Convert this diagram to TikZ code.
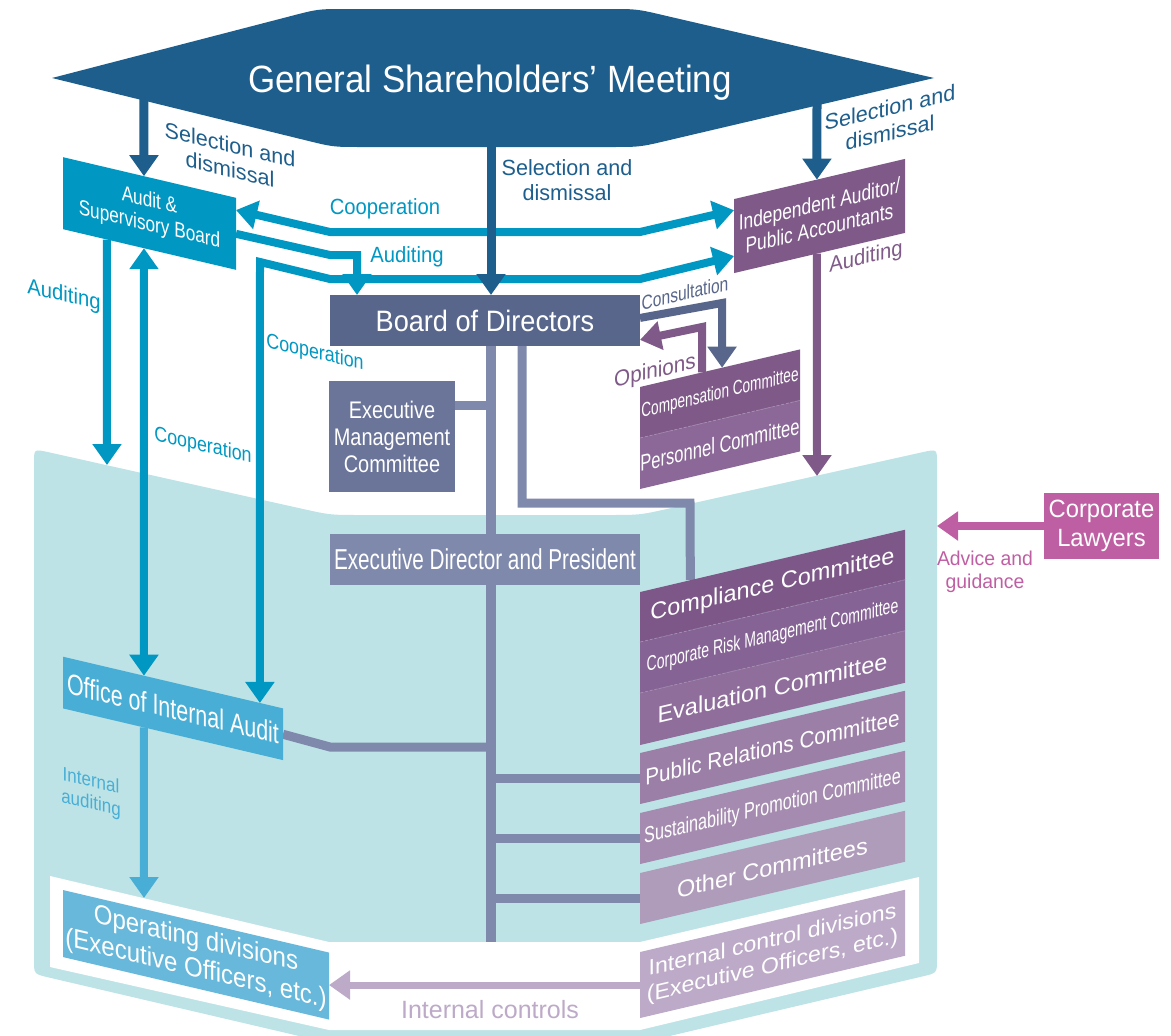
\documentclass[tikz,border=0pt]{standalone}
\usepackage{fontspec}
\setmainfont{Liberation Sans}
\usetikzlibrary{arrows.meta, calc}
\newcommand{\fs}[3]{\fontspec{Liberation Sans}[FakeStretch=#1]\fontsize{#2}{#3}\selectfont}
\definecolor{gsmblue}{HTML}{1D5E8D}
\definecolor{bodslate}{HTML}{57668A}
\definecolor{emcslate}{HTML}{6B7599}
\definecolor{presslate}{HTML}{7F89AB}
\definecolor{trunkgray}{HTML}{7F89AB}
\definecolor{audcyan}{HTML}{0097C2}
\definecolor{oiacyan}{HTML}{48AED5}
\definecolor{opdcyan}{HTML}{67B8DB}
\definecolor{panelcyan}{HTML}{BDE3E6}
\definecolor{indpurple}{HTML}{7F5A89}
\definecolor{compA}{HTML}{7F5A89}
\definecolor{compB}{HTML}{8B6897}
\definecolor{cplA}{HTML}{7C5788}
\definecolor{crmB}{HTML}{866395}
\definecolor{evaC}{HTML}{8F6E9B}
\definecolor{prcD}{HTML}{9B7FA7}
\definecolor{spcE}{HTML}{A48BAF}
\definecolor{othF}{HTML}{AF9BBA}
\definecolor{icdG}{HTML}{BDAAC8}
\definecolor{lawpink}{HTML}{BF5FA3}
\definecolor{divdash}{HTML}{A58DB1}
\pgfdeclarelayer{panel}
\pgfdeclarelayer{wires}
\pgfsetlayers{panel,wires,main}
\tikzset{
  plate/.style   = {inner sep=0pt, outer sep=0pt, align=center, text=white},
  lslant/.style  = {yslant=-0.235},
  rslant/.style  = {yslant=0.235},
  lbl/.style     = {inner sep=0pt, align=center},
  tipend/.style  = {-{Triangle[length=21pt,width=28pt]}},
  tipboth/.style = {{Triangle[length=21pt,width=28pt]}-{Triangle[length=21pt,width=28pt]}},
  selflow/.style = {tipend, line width=9pt, draw=gsmblue},
  cyflow/.style  = {tipend, line width=8pt, draw=audcyan},
  coop/.style    = {tipboth, line width=8pt, draw=audcyan},
  iaflow/.style  = {tipend, line width=8pt, draw=oiacyan},
  puflow/.style  = {tipend, line width=8pt, draw=indpurple},
  conflow/.style = {tipend, line width=8pt, draw=bodslate},
  lawflow/.style = {tipend, line width=8pt, draw=lawpink},
  icflow/.style  = {tipend, line width=7pt, draw=icdG},
  trunk/.style   = {line width=10pt, draw=trunkgray},
  branch/.style  = {line width=9pt, draw=trunkgray},
  divline/.style = {draw=divdash, line width=0.7pt, dash pattern=on 3pt off 2pt}
}
\begin{document}
\begin{tikzpicture}[x=1pt, y=-1pt]
  \useasboundingbox (0,0) rectangle (1171,1036);

  % background: company panel, floor and the meeting
  \begin{pgfonlayer}{panel}
    \fill[panelcyan] (34,463) .. controls (34,449) .. (48,452.1) -- (300,508.3)
      .. controls (330,515) .. (360,515) -- (610,515) .. controls (640,515) .. (670,508.3)
      -- (923,452.1) .. controls (937,449) .. (937,463) -- (937,959)
      .. controls (937,973) .. (923,976.3) -- (640,1043) -- (329,1043) -- (48,977.3)
      .. controls (34,974) .. (34,960) -- cycle;
    \fill[white] (50,876) -- (329,942) -- (640,942) -- (919,877) -- (919,963)
      -- (640,1030) -- (329,1030) -- (50,967) -- cycle;
    \fill[gsmblue] (52,78) -- (290,16.3) .. controls (318,9) .. (346,9) -- (609,9)
      .. controls (637,9) .. (665,15.6) -- (934,78) -- (668,140.4)
      .. controls (640,147) .. (612,147) -- (361,147) .. controls (333,147) .. (305,140.1)
      -- cycle;
  \end{pgfonlayer}
  \node[lbl, anchor=base, text=white, font=\fs{0.92}{38}{40}] (gsm) at (490,92)
        {General Shareholders’ Meeting};

  % boxes
  \node[plate, fill=bodslate, minimum width=310pt, minimum height=51pt,
        font=\fs{0.92}{29.5}{30}] (bod) at (485,320.5) {Board of Directors};
  \node[plate, fill=emcslate, minimum width=126pt, minimum height=111pt,
        font=\fs{0.83}{24}{27}] (emc) at (392,436.5) {Executive\\Management\\Committee};
  \node[plate, fill=presslate, minimum width=310pt, minimum height=51pt,
        font=\fs{0.72}{28.8}{30}] (pres) at (485,559.5) {Executive Director and President};
  \node[plate, fill=lawpink, minimum width=115pt, minimum height=66pt,
        font=\fs{0.95}{25}{28.5}] (law) at (1101.5,526) {Corporate\\Lawyers};

  \node[plate, lslant, fill=audcyan, minimum width=173pt, minimum height=72pt,
        font=\fs{0.8}{21.5}{24}] (aud) at (149.5,213.5) {Audit \&\\Supervisory Board};
  \node[plate, lslant, fill=oiacyan, minimum width=220pt, minimum height=51.7pt,
        font=\fs{0.74}{29}{28}] (oia) at (173,708.4) {Office of Internal Audit};
  \node[plate, lslant, fill=opdcyan, minimum width=266pt, minimum height=67pt,
        font=\fs{0.89}{27}{30}] (opd) at (196,954.8)
        {Operating divisions\\(Executive Officers, etc.)};

  \node[plate, rslant, fill=indpurple, minimum width=171pt, minimum height=74pt,
        font=\fs{0.79}{22}{24.5}] (ind) at (819.5,216) {Independent Auditor/\\Public Accountants};
  \node[plate, rslant, fill=compA, minimum width=160pt, minimum height=51pt,
        font=\fs{0.68}{20}{20}] (comp) at (720,393.7) {Compensation Committee};
  \node[plate, rslant, fill=compB, minimum width=160pt, minimum height=51pt,
        font=\fs{0.72}{23}{23}] (pers) at (720,444.7) {Personnel Committee};

  \node[plate, rslant, fill=cplA, minimum width=265pt, minimum height=50pt,
        font=\fs{1}{23.5}{24}] (cpl) at (772.5,585.9) {Compliance Committee};
  \node[plate, rslant, fill=crmB, minimum width=265pt, minimum height=51pt,
        font=\fs{0.67}{21}{22}] (crm) at (772.5,636.4) {Corporate Risk Management Committee};
  \node[plate, rslant, fill=evaC, minimum width=265pt, minimum height=52pt,
        font=\fs{1}{23.5}{24}] (eva) at (772.5,687.9) {Evaluation Committee};
  \node[plate, rslant, fill=prcD, minimum width=265pt, minimum height=51pt,
        font=\fs{0.9}{23}{24}] (prc) at (772.5,747.4) {Public Relations Committee};
  \node[plate, rslant, fill=spcE, minimum width=265pt, minimum height=51pt,
        font=\fs{0.72}{22.5}{24}] (spc) at (772.5,807.4) {Sustainability Promotion Committee};
  \node[plate, rslant, fill=othF, minimum width=265pt, minimum height=51pt,
        font=\fs{1}{23.5}{24}] (oth) at (772.5,867.4) {Other Committees};
  \node[plate, rslant, fill=icdG, minimum width=265pt, minimum height=66pt,
        font=\fs{1.05}{22}{25.5}] (icd) at (772.5,953.9)
        {Internal control divisions\\(Executive Officers, etc.)};

  \draw[divline] (comp.south west) -- (comp.south east);
  \draw[divline] (cpl.south west) -- (cpl.south east);
  \draw[divline] (crm.south west) -- (crm.south east);

  % reporting lines behind the boxes
  \coordinate (trunkend) at (491,942);
  \coordinate (cplx) at (522,503);
  \begin{pgfonlayer}{wires}
    \draw[trunk] (bod.south -| trunkend) -- (trunkend);
    \draw[branch] ($(emc.north east)!0.225!(emc.south east)$) coordinate (emcb)
          -- (emcb -| trunkend);
    \draw[branch] (oia.east) -- (330,747) coordinate (oiab) -- (oiab -| trunkend);
    \draw[branch] (prc.west) -- (prc.west -| trunkend);
    \draw[branch] (spc.west) -- (spc.west -| trunkend);
    \draw[branch] (oth.west) -- (oth.west -| trunkend);
    \draw[branch] (bod.south -| cplx) -- (cplx) -- (690,503)
          -- ($(cpl.north west)!0.19!(cpl.north east)$);
  \end{pgfonlayer}

  % cooperation and auditing
  \coordinate (pnlA) at (107,465);
  \coordinate (pnlB) at (817,476);
  \coordinate (pnlC) at (937,526);
  \coordinate (opdA) at (144,898);
  \coordinate (audx) at (357,255);
  \draw[coop] ($(aud.north east)!0.17!(aud.south east)$) -- (330,232) -- (640,232)
        -- ($(ind.north west)!0.15!(ind.south west)$);
  \draw[coop] ($(oia.north west)!0.895!(oia.north east)$) -- (260,262) -- (330,279)
        -- (640,279) -- ($(ind.north west)!0.77!(ind.south west)$);
  \draw[cyflow] (aud.east) -- (330,255) -- (audx) -- (bod.north -| audx);
  \draw[cyflow] ($(aud.south west)!0.254!(aud.south east)$) -- (pnlA);
  \draw[coop] ($(aud.south west)!0.468!(aud.south east)$)
        -- ($(oia.north west)!0.368!(oia.north east)$);
  \draw[iaflow] ($(oia.south west)!0.368!(oia.south east)$) -- (opdA);

  % selection and dismissal
  \coordinate (gsmL) at (144,96);
  \coordinate (gsmM) at (491,140);
  \coordinate (gsmR) at (817,100);
  \draw[selflow] (gsmL) -- ($(aud.north west)!0.468!(aud.north east)$);
  \draw[selflow] (gsmM) -- (gsmM |- bod.north);
  \draw[selflow] (gsmR) -- ($(ind.north west)!0.485!(ind.north east)$);

  \draw[puflow] ($(ind.south west)!0.485!(ind.south east)$) -- (pnlB);
  \draw[conflow] ($(bod.north east)!0.45!(bod.south east)$) -- (722,303)
        -- ($(comp.north west)!0.513!(comp.north east)$);
  \draw[puflow] ($(comp.north west)!0.3875!(comp.north east)$) -- (702,327)
        -- ($(bod.north east)!0.88!(bod.south east)$);
  \draw[lawflow] (law.west) -- (pnlC);
  \draw[icflow] (icd.west) -- (icd.west -| opd.east);

  % labels
  \node[lbl, lslant, text=gsmblue, font=\fs{0.98}{22}{25}] (selL) at (230,157) {Selection and\\dismissal};
  \node[lbl, text=gsmblue, font=\fs{0.98}{22}{25}] (selM) at (567,180) {Selection and\\dismissal};
  \node[lbl, rslant, text=gsmblue, font=\fs{0.98}{22}{25}] (selR) at (890,120) {Selection and\\dismissal};
  \node[lbl, text=audcyan, font=\fs{0.92}{22}{24}] (coopA) at (385,209) {Cooperation};
  \node[lbl, text=audcyan, font=\fs{0.92}{22}{24}] (audA) at (407,257) {Auditing};
  \node[lbl, lslant, text=audcyan, font=\fs{0.92}{22}{24}] (audB) at (64,296) {Auditing};
  \node[lbl, lslant, text=audcyan, font=\fs{0.85}{21}{24}] (coopB) at (203,446) {Cooperation};
  \node[lbl, lslant, text=audcyan, font=\fs{0.85}{21}{24}] (coopC) at (315,353) {Cooperation};
  \node[lbl, rslant, text=bodslate, font=\fs{0.78}{20}{22}] (cons) at (685,293) {Consultation};
  \node[lbl, rslant, text=indpurple, font=\fs{0.92}{22.5}{24}] (opin) at (655,372) {Opinions};
  \node[lbl, rslant, text=indpurple, font=\fs{0.92}{22}{24}] (audC) at (866,258) {Auditing};
  \node[lbl, text=lawpink, font=\fs{0.97}{20}{23}] (advice) at (985,572) {Advice and\\guidance};
  \node[lbl, lslant, text=oiacyan, font=\fs{0.87}{19.5}{22.5}] (intaud) at (91,793) {Internal\\auditing};
  \node[lbl, text=icdG, font=\fs{1}{25}{26}] (intctl) at (490,1010) {Internal controls};
\end{tikzpicture}
\end{document}
